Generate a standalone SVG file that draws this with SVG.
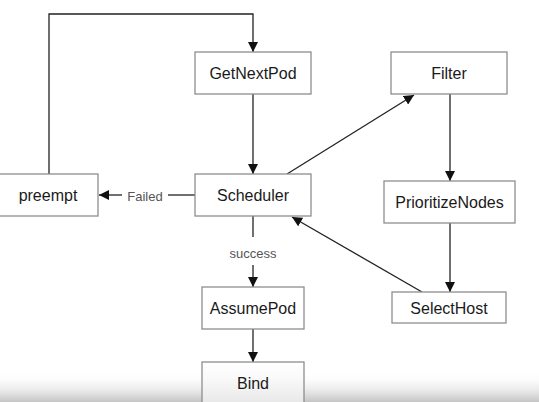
<svg xmlns="http://www.w3.org/2000/svg" width="539" height="402" viewBox="0 0 539 402">
<defs>
<marker id="ah" viewBox="0 0 10 10" refX="10" refY="5" markerWidth="10" markerHeight="10" markerUnits="userSpaceOnUse" orient="auto">
<path d="M0,0 L10,5 L0,10 z" fill="#111"/>
</marker>
<linearGradient id="band" x1="0" y1="0" x2="0" y2="1">
<stop offset="0" stop-color="#ffffff" stop-opacity="0"/>
<stop offset="1" stop-color="#c4c4c4" stop-opacity="1"/>
</linearGradient>
<linearGradient id="bandIn" x1="0" y1="0" x2="0" y2="1">
<stop offset="0" stop-color="#ffffff"/>
<stop offset="0.3" stop-color="#fafafa"/>
<stop offset="1" stop-color="#e2e2e2"/>
</linearGradient>
</defs>
<style>
.box{fill:#fff;stroke:#8e8e8e;stroke-width:1.3}
.t{font-family:"Liberation Sans",Arial,sans-serif;font-size:16px;fill:#1a1a1a;text-anchor:middle;dominant-baseline:central}
.lbl{font-family:"Liberation Sans",Arial,sans-serif;font-size:13px;fill:#555;text-anchor:middle;dominant-baseline:central}
.c{fill:none;stroke:#222;stroke-width:1.3}
</style>
<rect width="539" height="402" fill="#fff"/>
<rect x="0" y="372" width="539" height="30" fill="url(#band)"/>
<g id="connectors">
<path class="c" d="M49,174 V14 H253 V52" marker-end="url(#ah)"/>
<path class="c" d="M253,94 V174" marker-end="url(#ah)"/>
<path class="c" d="M195,195 H168"/>
<path class="c" d="M122,195 H99" marker-end="url(#ah)"/>
<path class="c" d="M287,174 L414,95" marker-end="url(#ah)"/>
<path class="c" d="M450,94 V181" marker-end="url(#ah)"/>
<path class="c" d="M450,223 V292" marker-end="url(#ah)"/>
<path class="c" d="M422,292 L292,217" marker-end="url(#ah)"/>
<path class="c" d="M253,216 V237"/>
<path class="c" d="M253,265 V287" marker-end="url(#ah)"/>
<path class="c" d="M253,329 V362" marker-end="url(#ah)"/>
<text class="lbl" x="145" y="196">Failed</text>
<text class="lbl" x="253" y="253">success</text>
</g>
<g id="GetNextPod"><rect class="box" x="195" y="52" width="116" height="42"/><text class="t" x="253" y="73">GetNextPod</text></g>
<g id="Scheduler"><rect class="box" x="195" y="174" width="116" height="42"/><text class="t" x="253" y="195">Scheduler</text></g>
<g id="preempt"><rect class="box" x="-1" y="174" width="99" height="42"/><text class="t" x="48" y="195">preempt</text></g>
<g id="Filter"><rect class="box" x="391" y="52" width="116" height="42"/><text class="t" x="449" y="73">Filter</text></g>
<g id="PrioritizeNodes"><rect class="box" x="384" y="181" width="131" height="42"/><text class="t" x="449.5" y="202">PrioritizeNodes</text></g>
<g id="SelectHost"><rect class="box" x="392" y="292" width="114" height="31"/><text class="t" x="449" y="308">SelectHost</text></g>
<g id="AssumePod"><rect class="box" x="202" y="287" width="102" height="42"/><text class="t" x="253" y="308">AssumePod</text></g>
<g id="Bind"><rect class="box" x="202" y="362" width="102" height="50" fill="url(#bandIn)" style="fill:url(#bandIn)"/><text class="t" x="253" y="383">Bind</text></g>
</svg>
